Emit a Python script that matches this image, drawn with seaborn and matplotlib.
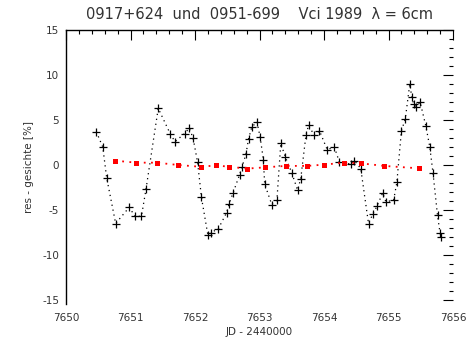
import matplotlib
matplotlib.use("Agg")
import matplotlib.pyplot as plt
from matplotlib.ticker import MultipleLocator
import seaborn as sns
import pandas as pd

# Residual light curve (black) and comparison source (red), JD - 2440000
jd_main = [7650.47, 7650.57, 7650.63, 7650.77, 7650.98, 7651.07, 7651.17, 7651.24,
           7651.43, 7651.62, 7651.69, 7651.84, 7651.91, 7651.97, 7652.04, 7652.10,
           7652.20, 7652.25, 7652.36, 7652.49, 7652.53, 7652.59, 7652.69, 7652.73,
           7652.79, 7652.83, 7652.88, 7652.96, 7653.01, 7653.06, 7653.08, 7653.19,
           7653.27, 7653.33, 7653.40, 7653.50, 7653.59, 7653.64, 7653.72, 7653.76,
           7653.85, 7653.93, 7654.05, 7654.16, 7654.24, 7654.42, 7654.47, 7654.57,
           7654.69, 7654.76, 7654.82, 7654.91, 7654.96, 7655.08, 7655.13, 7655.20,
           7655.26, 7655.33, 7655.36, 7655.39, 7655.43, 7655.49, 7655.58, 7655.64,
           7655.69, 7655.76, 7655.80, 7655.81]
res_main = [3.7, 2.0, -1.4, -6.5, -4.7, -5.7, -5.7, -2.7,
            6.3, 3.4, 2.6, 3.5, 4.1, 3.0, 0.3, -3.6,
            -7.8, -7.5, -7.1, -5.3, -4.3, -3.1, -1.1, -0.2,
            1.2, 2.9, 4.2, 4.8, 3.1, 0.6, -2.1, -4.4,
            -3.9, 2.4, 0.9, -0.85, -2.8, -1.5, 3.3, 4.4,
            3.3, 3.8, 1.7, 2.0, 0.3, 0.1, 0.5, -0.4,
            -6.5, -5.4, -4.6, -3.1, -4.1, -3.9, -1.9, 3.8,
            5.1, 9.0, 7.6, 6.8, 6.5, 7.0, 4.3, 2.0,
            -0.9, -5.6, -7.6, -8.0]

jd_ref = [7650.76, 7651.09, 7651.41, 7651.74, 7652.09, 7652.33, 7652.53, 7652.81,
          7653.09, 7653.41, 7653.74, 7654.00, 7654.31, 7654.58, 7654.93, 7655.47]
res_ref = [0.48, 0.26, 0.26, 0.0, -0.2, -0.04, -0.2, -0.4,
           -0.26, -0.1, -0.1, 0.04, 0.26, 0.18, -0.1, -0.37]

x_ticks = [7650, 7651, 7652, 7653, 7654, 7655, 7656]
y_ticks = [-15, -10, -5, 0, 5, 10, 15]

sns.set_style("white")
plt.rcParams["font.family"] = ["DejaVu Sans"]

fig = plt.figure(figsize=(4.75, 3.5), dpi=100)
ax = fig.add_axes([66 / 475, 1 - 303.6 / 350, (453 - 66) / 475, (303.6 - 30) / 350])

df_main = pd.DataFrame({"jd": jd_main, "res": res_main})
df_ref = pd.DataFrame({"jd": jd_ref, "res": res_ref})

sns.lineplot(data=df_main, x="jd", y="res", ax=ax, sort=False, estimator=None,
             color="black", linestyle=(0, (1, 3)), linewidth=0.9,
             marker="+", markersize=6, markeredgewidth=0.9, markeredgecolor="black")
sns.lineplot(data=df_ref, x="jd", y="res", ax=ax, sort=False, estimator=None,
             color="red", linestyle=(0, (1, 3)), linewidth=1.3,
             marker="s", markersize=3.6, markeredgewidth=0, markerfacecolor="red")

ax.set_xlim(7650, 7656)
ax.set_ylim(-15.4, 15)
ax.set_xticks(x_ticks)
ax.set_yticks(y_ticks)
ax.set_xticklabels([str(t) for t in x_ticks])
ax.set_yticklabels([str(t) for t in y_ticks])
ax.xaxis.set_minor_locator(MultipleLocator(0.2))
ax.yaxis.set_minor_locator(MultipleLocator(1))

ax.tick_params(which="both", direction="in", top=True, right=True,
               colors="black", labelcolor="#333333", labelsize=7.5, width=0.8)
ax.tick_params(which="major", length=7)
ax.tick_params(which="minor", length=3)
ax.tick_params(axis="x", pad=7)
ax.tick_params(axis="y", pad=5)

for side in ["left", "top"]:
    ax.spines[side].set_visible(True)
    ax.spines[side].set_color("black")
    ax.spines[side].set_linewidth(1.0)
for side in ["right", "bottom"]:
    ax.spines[side].set_visible(False)

ax.set_xlabel("JD - 2440000", fontsize=7.5, labelpad=3, color="#333333")
ax.set_ylabel("res - gesichte [%]", fontsize=7.5, labelpad=6, color="#333333")
ax.set_title("0917+624  und  0951-699    Vci 1989  λ = 6cm", fontsize=10.5,
             pad=8, color="#333333")

fig.savefig("out.png", dpi=100)
